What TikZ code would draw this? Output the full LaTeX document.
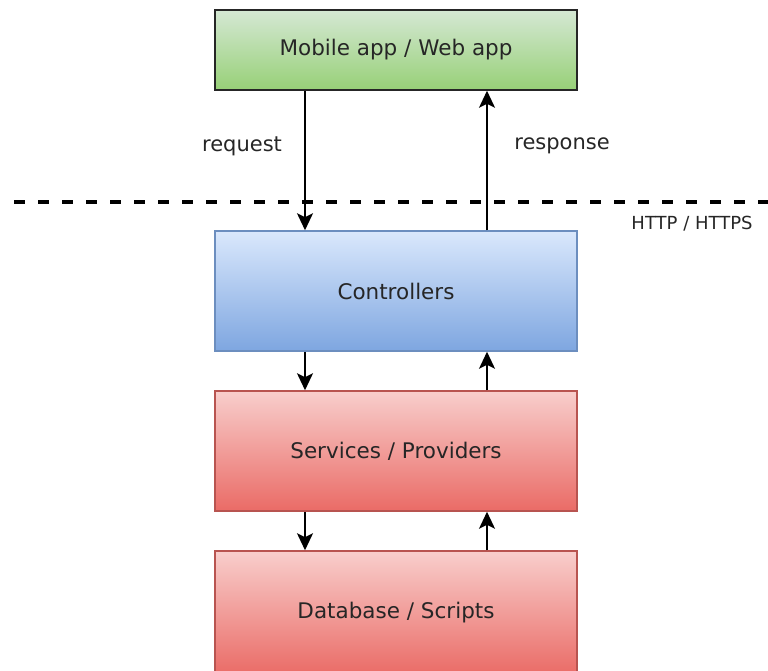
\documentclass[tikz,border=0pt]{standalone}
\usepackage{fontspec}
\setmainfont{DejaVu Sans}
\usetikzlibrary{arrows.meta}
\begin{document}
\begin{tikzpicture}[x=1pt,y=-1pt,
  layer/.style={draw, line width=1.5pt, minimum width=362pt, minimum height=120pt, inner sep=0pt, text=black!85, font=\fontsize{21.5}{25}\selectfont},
  greenbox/.style={layer, draw=black!85, top color={rgb,255:red,213;green,232;blue,212}, bottom color={rgb,255:red,151;green,208;blue,119}, minimum height=80pt},
  bluebox/.style={layer, draw={rgb,255:red,108;green,142;blue,191}, top color={rgb,255:red,218;green,232;blue,252}, bottom color={rgb,255:red,126;green,166;blue,224}},
  redbox/.style={layer, draw={rgb,255:red,184;green,84;blue,80}, top color={rgb,255:red,248;green,206;blue,204}, bottom color={rgb,255:red,234;green,107;blue,102}},
  flow/.style={line width=1.8pt, -{Stealth[length=17pt,width=16pt,inset=4pt]}},
  lbl/.style={font=\fontsize{21}{25}\selectfont, text=black!85},
]
\useasboundingbox (0,0) rectangle (768,670);
\clip (0,0) rectangle (768,670);

% layers
\node[greenbox] (app) at (396,50) {Mobile app / Web app};
\node[bluebox] (ctrl) at (396,291) {Controllers};
\node[redbox] (svc) at (396,451) {Services / Providers};
\node[redbox, minimum height=124pt] (db) at (396,613) {Database / Scripts};

% HTTP boundary
\coordinate (hl) at (14,202);
\coordinate (hr) at (768,202);
\draw[line width=3.2pt, dash pattern=on 11pt off 13pt] (hl) -- (hr);
\node[font=\fontsize{18}{21}\selectfont, text=black!85] (http) at (692,224) {HTTP / HTTPS};

% request / response
\draw[flow] (app.south -| 305,0) -- (ctrl.north -| 305,0);
\draw[flow] (ctrl.north -| 487,0) -- (app.south -| 487,0);
\node[lbl] (req) at (242,146) {request};
\node[lbl] (resp) at (562,146) {response};

% between layers
\draw[flow] (ctrl.south -| 305,0) -- (svc.north -| 305,0);
\draw[flow] (svc.north -| 487,0) -- (ctrl.south -| 487,0);
\draw[flow] (svc.south -| 305,0) -- (db.north -| 305,0);
\draw[flow] (db.north -| 487,0) -- (svc.south -| 487,0);
\end{tikzpicture}
\end{document}
